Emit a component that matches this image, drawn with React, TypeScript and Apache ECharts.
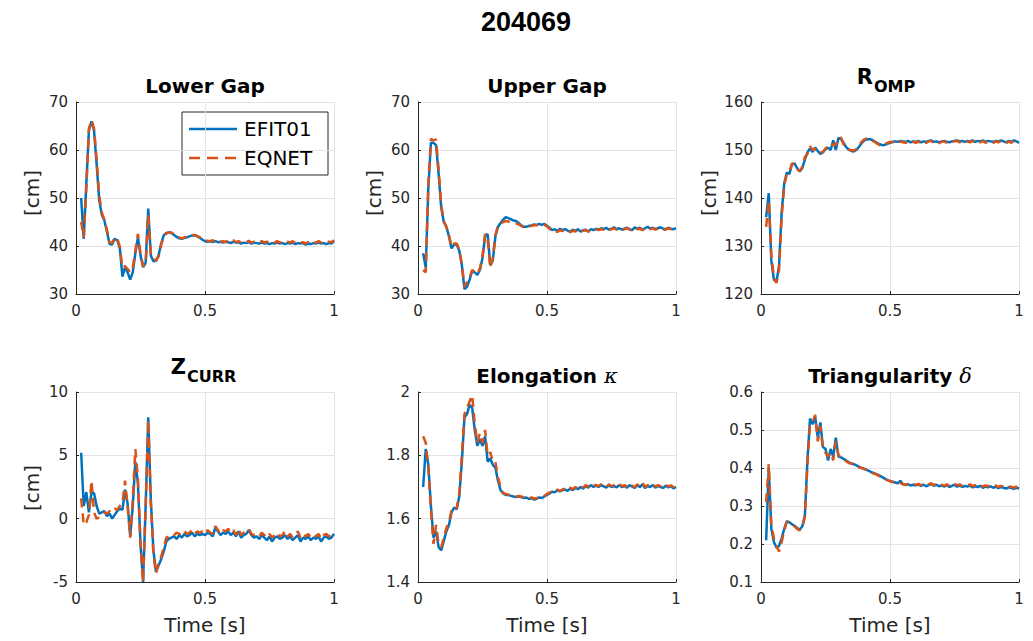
import { useEffect, useRef } from "react";
import * as echarts from "echarts";

// Shot number shown as the figure title
const SHOT = "204069";

// Time base [s], shared by every trace
const TIME = [
  0.02, 0.03, 0.04, 0.05, 0.06, 0.07, 0.08, 0.09,
  0.10, 0.11, 0.12, 0.13, 0.14, 0.15, 0.16, 0.17, 0.18, 0.19,
  0.20, 0.21, 0.22, 0.23, 0.24, 0.25, 0.26, 0.27, 0.28, 0.29,
  0.30, 0.31, 0.32, 0.33, 0.34, 0.35, 0.36, 0.37, 0.38, 0.39,
  0.40, 0.41, 0.42, 0.43, 0.44, 0.45, 0.46, 0.47, 0.48, 0.49,
  0.50, 0.51, 0.52, 0.53, 0.54, 0.55, 0.56, 0.57, 0.58, 0.59,
  0.60, 0.61, 0.62, 0.63, 0.64, 0.65, 0.66, 0.67, 0.68, 0.69,
  0.70, 0.71, 0.72, 0.73, 0.74, 0.75, 0.76, 0.77, 0.78, 0.79,
  0.80, 0.81, 0.82, 0.83, 0.84, 0.85, 0.86, 0.87, 0.88, 0.89,
  0.90, 0.91, 0.92, 0.93, 0.94, 0.95, 0.96, 0.97, 0.98, 0.99,
  1.00,
];

// Lower gap [cm]
const LOWER_GAP_EFIT = [
  50, 41.5, 53, 64, 66, 64, 57, 49.5,
  46.5, 45.3, 43, 40.4, 40.3, 41.5, 41.2, 39.5, 33.6, 35.5,
  34.5, 33, 34.5, 38.5, 41.8, 38, 35.6, 36.5, 47.8, 38,
  36.8, 36.9, 38, 40.5, 42.2, 42.7, 42.8, 42.7, 42.3, 41.9,
  41.6, 41.5, 41.7, 41.8, 42.0, 42.2, 42.2, 42.0, 41.7, 41.3,
  41.0, 40.9, 41.0, 40.8, 41.0, 40.8, 40.9, 40.7, 40.9, 40.8,
  40.6, 40.9, 40.7, 40.8, 40.5, 40.7, 40.6, 40.8, 40.5, 40.7,
  40.6, 40.5, 40.7, 40.5, 40.6, 40.4, 40.6, 40.5, 40.7, 40.5,
  40.6, 40.4, 40.6, 40.5, 40.7, 40.4, 40.6, 40.5, 40.6, 40.3,
  40.5, 40.4, 40.6, 40.5, 40.7, 40.5, 40.6, 40.4, 40.6, 40.5,
  41.0,
];
const LOWER_GAP_EQNET = [
  45, 41.8, 52, 64.5, 66.2, 64.5, 58, 50.5,
  47, 45.5, 43.3, 40.8, 40.6, 41.8, 41.6, 39.8, 35.5, 35.8,
  35.2, 34.5, 35.5, 39, 42.5, 38.5, 35.8, 36.2, 46.5, 38.5,
  37.3, 37, 37.8, 40.2, 42, 42.6, 42.8, 42.8, 42.4, 42,
  41.8, 41.6, 41.8, 41.9, 42.1, 42.3, 42.3, 42.1, 41.8, 41.5,
  41.2, 41.1, 41.0, 41.2, 40.9, 41.2, 40.9, 41.0, 40.8, 41.1,
  40.8, 41.2, 40.8, 41.0, 40.7, 40.9, 40.8, 41.1, 40.7, 40.9,
  40.8, 40.7, 41.0, 40.7, 40.9, 40.6, 40.9, 40.7, 41.0, 40.7,
  40.8, 40.6, 40.9, 40.7, 41.0, 40.6, 40.9, 40.7, 40.8, 40.5,
  40.8, 40.6, 40.9, 40.7, 41.0, 40.7, 40.8, 40.6, 40.9, 40.8,
  41.2,
];

// Upper gap [cm]
const UPPER_GAP_EFIT = [
  38.5, 35.5, 52, 61.5, 61.5, 61, 55, 48,
  45, 44, 42, 39.5, 40.3, 40.3, 39, 36, 31, 31.5,
  33, 34.8, 34.5, 34, 35, 37.5, 42, 42.5, 36, 37,
  42, 44, 44.8, 45.5, 46, 45.8, 45.6, 45.3, 45.2, 44.8,
  44.3, 44.0, 44.0, 44.2, 44.3, 44.5, 44.4, 44.6, 44.4, 44.6,
  44.2, 43.8, 43.3, 43.5, 43.1, 43.6, 43.3, 43.5, 43.2, 43.0,
  43.4, 43.1, 43.5, 43.0, 43.3, 43.4, 43.0, 43.5, 43.3, 43.6,
  43.4, 43.7, 43.5, 43.8, 43.4, 43.6, 43.9, 43.5, 43.7, 43.4,
  43.6, 43.8, 43.5, 43.3, 43.9, 43.6, 43.8, 43.4, 43.7, 44.0,
  43.6, 43.8, 43.5, 43.7, 43.9, 43.6, 43.5, 43.8, 43.6, 43.5,
  43.7,
];
const UPPER_GAP_EQNET = [
  35, 34.5, 53, 62.3, 62, 62.2, 56, 48.5,
  45.2, 44, 42.3, 39.8, 40.5, 40.5, 39.3, 36.2, 31.5, 32.5,
  33.5, 35, 34.6, 34.2, 35.3, 38, 42.5, 41.5, 35.5, 37.5,
  42.3, 44.2, 44.6, 45, 45.2, 45.1, 44.9, 44.8, 44.7, 44.5,
  44.2, 43.9, 43.8, 44.0, 44.2, 44.3, 44.3, 44.4, 44.2, 44.4,
  44.1, 43.6, 43.2, 43.4, 42.9, 43.3, 43.1, 43.4, 43.0, 42.9,
  43.2, 43.0, 43.4, 42.9, 43.2, 43.3, 43.0, 43.3, 43.2, 43.5,
  43.3, 43.5, 43.4, 43.6, 43.3, 43.5, 43.7, 43.4, 43.6, 43.3,
  43.5, 43.7, 43.4, 43.2, 43.7, 43.5, 43.6, 43.3, 43.6, 43.8,
  43.5, 43.7, 43.4, 43.6, 43.8, 43.5, 43.4, 43.7, 43.5, 43.4,
  43.6,
];

// Outer midplane radius [cm]
const R_OMP_EFIT = [
  136, 141, 127, 123, 122.5, 126, 137, 143,
  145.3, 145, 147, 147.2, 146.2, 145.5, 146.2, 148, 149.5, 150.3,
  149.6, 150.5, 149.8, 149.2, 149.5, 150.2, 150.5, 150, 152, 150,
  152.5, 152.3, 151.5, 150.6, 150.1, 149.8, 149.7, 150, 150.7, 151.4,
  152, 152.2, 152.3, 152.1, 151.8, 151.5, 151.2, 151.0, 151.1, 151.3,
  151.5, 151.7, 151.8, 151.7, 151.9, 151.8, 151.7, 151.9, 151.6, 151.8,
  151.7, 151.9, 151.6, 151.8, 151.7, 151.9, 152.0, 151.7, 151.8, 151.6,
  151.8, 151.9, 151.7, 151.6, 151.8, 151.9, 152.0, 151.8, 151.9, 151.7,
  151.9, 151.8, 152.0, 151.7, 151.9, 151.8, 152.0, 151.7, 151.9, 151.8,
  151.7, 151.9, 151.8, 152.0, 151.8, 151.6, 151.9, 151.7, 152.0, 151.8,
  151.5,
];
const R_OMP_EQNET = [
  134, 139.5, 128, 123.5, 122.3, 125, 136, 142.5,
  145, 145.4, 147.2, 147, 146, 145.6, 146.5, 148.5, 149.2, 150.8,
  150, 150.2, 150.1, 149.4, 149.6, 150.3, 150.8, 150.5, 151.2, 151,
  152.5, 152.6, 151.2, 150.3, 150, 150, 149.9, 150.2, 151, 151.7,
  152.2, 152.4, 152.3, 152, 151.7, 151.3, 151, 150.9, 151.2, 151.5,
  151.7, 151.6, 151.9, 151.5, 151.8, 151.6, 151.5, 151.8, 151.4, 151.7,
  151.5, 151.8, 151.4, 151.7, 151.5, 151.8, 151.9, 151.5, 151.7, 151.4,
  151.7, 151.8, 151.5, 151.4, 151.7, 151.8, 151.9, 151.6, 151.8, 151.5,
  151.8, 151.6, 151.9, 151.5, 151.8, 151.6, 151.9, 151.5, 151.8, 151.6,
  151.5, 151.8, 151.6, 151.9, 151.7, 151.4, 151.8, 151.5, 151.9, 151.6,
  151.4,
];

// Current centroid height [cm]
const Z_CURR_EFIT = [
  5.2, 1.0, 2.1, 0.5, 2.1, 2.0, 1.0, 0.4,
  0.5, 0.6, 0.2, 0.4, 0.0, 0.3, 0.6, 0.8, 0.7, 2.3,
  1.2, -1.4, 1.0, 4.5, 2.8, -2.0, -5.0, 1.0, 8.0, 1.5,
  -2.5, -4.2, -3.7, -3.2, -2.6, -1.8, -1.6, -1.5, -1.4, -1.6,
  -1.3, -1.5, -1.2, -1.4, -1.3, -1.1, -1.4, -1.2, -1.3, -1.2,
  -1.3, -1.1, -1.2, -1.4, -0.7, -1.0, -1.3, -1.1, -1.2, -1.0,
  -1.3, -1.1, -1.4, -1.0, -1.5, -1.3, -1.2, -0.9, -1.3, -1.5,
  -1.4, -1.6, -1.3, -1.5, -1.7, -1.4, -1.8, -1.5, -1.4, -1.6,
  -1.5, -1.3, -1.6, -1.4, -1.7, -1.5, -1.3, -1.8, -1.5, -1.6,
  -1.4, -1.7, -1.5, -1.6, -1.4, -1.8, -1.5, -1.4, -1.6, -1.5,
  -1.2,
];
const Z_CURR_EQNET = [
  1.6, -0.5, -0.3, 0.3, 3.0, 0.5, 0.0, 0.1,
  0.3, 0.5, 0.4, 0.6, 0.5, 0.8, 0.7, 1.0, 1.2, 3.0,
  1.0, -1.5, 1.5, 5.5, 3.2, -2.0, -5.0, 1.0, 7.8, 1.2,
  -2.8, -4.3, -3.5, -3.0, -2.3, -1.5, -1.4, -1.2, -1.3, -1.1,
  -1.2, -1.3, -1.0, -1.2, -1.1, -0.9, -1.2, -1.0, -1.1, -1.0,
  -1.2, -0.9, -1.1, -1.2, -0.6, -0.9, -1.2, -0.9, -1.0, -0.8,
  -1.1, -0.9, -1.3, -0.8, -1.3, -1.1, -1.0, -0.8, -1.2, -1.3,
  -1.2, -1.4, -1.1, -1.3, -1.5, -1.2, -1.5, -1.3, -1.1, -1.4,
  -1.3, -1.0, -1.4, -1.2, -1.5, -1.3, -1.0, -1.5, -1.2, -1.4,
  -1.2, -1.5, -1.3, -1.4, -1.2, -1.6, -1.3, -1.2, -1.4, -1.3,
  -1.0,
];

// Elongation kappa
const KAPPA_EFIT = [
  1.70, 1.82, 1.77, 1.64, 1.54, 1.56, 1.51, 1.50,
  1.53, 1.56, 1.58, 1.62, 1.635, 1.63, 1.67, 1.78, 1.92, 1.93,
  1.96, 1.95, 1.88, 1.83, 1.85, 1.83, 1.86, 1.78, 1.79, 1.77,
  1.76, 1.72, 1.69, 1.68, 1.675, 1.675, 1.672, 1.67, 1.668, 1.67,
  1.668, 1.665, 1.667, 1.662, 1.665, 1.66, 1.663, 1.667, 1.665, 1.67,
  1.675, 1.68, 1.685, 1.683, 1.69, 1.686, 1.69, 1.692, 1.688, 1.695,
  1.69, 1.697, 1.693, 1.70, 1.695, 1.703, 1.698, 1.706, 1.70, 1.704,
  1.70, 1.706, 1.702, 1.698, 1.705, 1.70, 1.703, 1.699, 1.706, 1.70,
  1.703, 1.698, 1.706, 1.701, 1.697, 1.705, 1.70, 1.708, 1.697, 1.703,
  1.70, 1.706, 1.698, 1.703, 1.70, 1.697, 1.704, 1.699, 1.702, 1.696,
  1.70,
];
const KAPPA_EQNET = [
  1.86, 1.84, 1.76, 1.63, 1.52, 1.58, 1.52, 1.51,
  1.54, 1.57, 1.59, 1.625, 1.638, 1.632, 1.68, 1.80, 1.93, 1.95,
  1.97, 1.99, 1.90, 1.84, 1.87, 1.84, 1.88, 1.80, 1.81, 1.78,
  1.78, 1.73, 1.70, 1.68, 1.678, 1.676, 1.674, 1.672, 1.67, 1.672,
  1.67, 1.667, 1.669, 1.664, 1.667, 1.663, 1.665, 1.668, 1.667, 1.672,
  1.678, 1.682, 1.687, 1.686, 1.692, 1.688, 1.692, 1.695, 1.691, 1.698,
  1.693, 1.70, 1.696, 1.703, 1.698, 1.706, 1.701, 1.709, 1.703, 1.707,
  1.703, 1.709, 1.705, 1.701, 1.708, 1.703, 1.706, 1.702, 1.709, 1.703,
  1.706, 1.701, 1.709, 1.704, 1.70, 1.708, 1.703, 1.714, 1.70, 1.706,
  1.703, 1.709, 1.701, 1.706, 1.703, 1.70, 1.707, 1.702, 1.705, 1.70,
  1.706,
];

// Triangularity delta
const DELTA_EFIT = [
  0.21, 0.40, 0.24, 0.205, 0.19, 0.195, 0.215, 0.24,
  0.26, 0.257, 0.252, 0.248, 0.242, 0.238, 0.246, 0.275, 0.42, 0.53,
  0.515, 0.535, 0.48, 0.52, 0.455, 0.45, 0.42, 0.45, 0.43, 0.48,
  0.43, 0.428, 0.424, 0.42, 0.415, 0.412, 0.41, 0.407, 0.403, 0.40,
  0.398, 0.395, 0.392, 0.388, 0.386, 0.383, 0.38, 0.376, 0.372, 0.368,
  0.366, 0.364, 0.362, 0.36, 0.366, 0.358, 0.355, 0.357, 0.354, 0.356,
  0.354, 0.357, 0.353, 0.356, 0.352, 0.355, 0.358, 0.353, 0.356, 0.352,
  0.354, 0.351, 0.355, 0.35, 0.353, 0.356, 0.351, 0.354, 0.35, 0.353,
  0.351, 0.354, 0.349, 0.352, 0.35, 0.353, 0.348, 0.351, 0.349, 0.352,
  0.348, 0.351, 0.347, 0.35, 0.348, 0.346, 0.349, 0.347, 0.345, 0.348,
  0.346,
];
const DELTA_EQNET = [
  0.31, 0.41, 0.25, 0.215, 0.195, 0.18, 0.205, 0.235,
  0.258, 0.255, 0.25, 0.246, 0.24, 0.236, 0.245, 0.27, 0.41, 0.515,
  0.52, 0.54, 0.47, 0.51, 0.45, 0.44, 0.43, 0.44, 0.42, 0.47,
  0.435, 0.426, 0.422, 0.418, 0.413, 0.412, 0.408, 0.405, 0.402, 0.40,
  0.397, 0.394, 0.39, 0.387, 0.385, 0.382, 0.378, 0.375, 0.371, 0.368,
  0.365, 0.363, 0.361, 0.359, 0.36, 0.357, 0.356, 0.358, 0.355, 0.357,
  0.356, 0.358, 0.355, 0.357, 0.354, 0.357, 0.36, 0.355, 0.358, 0.354,
  0.356, 0.353, 0.357, 0.353, 0.356, 0.359, 0.354, 0.357, 0.353, 0.356,
  0.354, 0.357, 0.352, 0.355, 0.353, 0.356, 0.351, 0.354, 0.352, 0.355,
  0.351, 0.354, 0.35, 0.353, 0.351, 0.349, 0.352, 0.35, 0.348, 0.351,
  0.349,
];

const SERIES_NAMES = ["EFIT01", "EQNET"];
const X_LABEL = "Time [s]";
const Y_LABEL = "[cm]";

const BLUE = "#0072BD";
const ORANGE = "#D95319";
const INK = "#262626";
const GRID_LINE = "#e3e3e3";
const FONT = "DejaVu Sans";
const LINE_W = 2.5;
const DASH = [9, 6];
const LEGEND_DASH = [11, 7];

type Panel = {
  left: number;
  top: number;
  height: number;
  min: number;
  max: number;
  interval: number;
  efit: number[];
  eqnet: number[];
};

const PANEL_W = 258;
const PANELS: Panel[] = [
  { left: 76, top: 102, height: 192, min: 30, max: 70, interval: 10, efit: LOWER_GAP_EFIT, eqnet: LOWER_GAP_EQNET },
  { left: 418, top: 102, height: 192, min: 30, max: 70, interval: 10, efit: UPPER_GAP_EFIT, eqnet: UPPER_GAP_EQNET },
  { left: 761, top: 102, height: 192, min: 120, max: 160, interval: 10, efit: R_OMP_EFIT, eqnet: R_OMP_EQNET },
  { left: 76, top: 392, height: 190, min: -5, max: 10, interval: 5, efit: Z_CURR_EFIT, eqnet: Z_CURR_EQNET },
  { left: 418, top: 392, height: 190, min: 1.4, max: 2, interval: 0.2, efit: KAPPA_EFIT, eqnet: KAPPA_EQNET },
  { left: 761, top: 392, height: 190, min: 0.1, max: 0.6, interval: 0.1, efit: DELTA_EFIT, eqnet: DELTA_EQNET },
];

const pairs = (values: number[]) => TIME.map((t, i) => [t, values[i]]);

function buildOption() {
  const grid = PANELS.map((p) => ({
    left: p.left,
    top: p.top,
    width: PANEL_W,
    height: p.height,
    containLabel: false,
  }));

  const xAxis = PANELS.map((_, i) => ({
    type: "value",
    gridIndex: i,
    min: 0,
    max: 1,
    interval: 0.5,
    axisLine: { show: true, onZero: false, lineStyle: { color: INK, width: 1 } },
    axisTick: { show: true, inside: true, length: 3, lineStyle: { color: INK } },
    axisLabel: { color: INK, fontFamily: FONT, fontSize: 15, margin: 9 },
    splitLine: { show: true, lineStyle: { color: GRID_LINE, width: 1 } },
  }));

  const yAxis = PANELS.map((p, i) => ({
    type: "value",
    gridIndex: i,
    min: p.min,
    max: p.max,
    interval: p.interval,
    axisLine: { show: true, onZero: false, lineStyle: { color: INK, width: 1 } },
    axisTick: { show: true, inside: true, length: 3, lineStyle: { color: INK } },
    axisLabel: { color: INK, fontFamily: FONT, fontSize: 15, margin: 8 },
    splitLine: { show: true, lineStyle: { color: GRID_LINE, width: 1 } },
  }));

  const series: any[] = [];
  PANELS.forEach((p, i) => {
    series.push({
      type: "line",
      name: SERIES_NAMES[0],
      xAxisIndex: i,
      yAxisIndex: i,
      data: pairs(p.efit),
      symbol: "none",
      lineStyle: { color: BLUE, width: LINE_W },
      itemStyle: { color: BLUE },
    });
    series.push({
      type: "line",
      name: SERIES_NAMES[1],
      xAxisIndex: i,
      yAxisIndex: i,
      data: pairs(p.eqnet),
      symbol: "none",
      lineStyle: { color: ORANGE, width: LINE_W, type: DASH },
      itemStyle: { color: ORANGE },
    });
  });

  const titleFont = (size: number) => `bold ${size}px "${FONT}"`;
  const cx = (i: number) => PANELS[i].left + PANEL_W / 2;

  const plainTitle = (i: number, text: string, y: number) => ({
    type: "text",
    x: cx(i),
    y,
    style: { text, font: titleFont(20), fill: "#000", align: "center", verticalAlign: "middle" },
  });

  const richTitle = (i: number, text: string, symbol: string, y: number) => ({
    type: "text",
    x: cx(i),
    y,
    style: {
      text: `{b|${text} }{g|${symbol}}`,
      align: "center",
      verticalAlign: "middle",
      rich: {
        b: { fontFamily: FONT, fontWeight: "bold", fontSize: 20, fill: "#000", color: "#000" },
        g: { fontFamily: "DejaVu Serif", fontStyle: "italic", fontSize: 21, fill: "#000", color: "#000" },
      },
    },
  });

  const subscriptTitle = (main: string, sub: string, splitX: number, yMain: number, ySub: number) => [
    {
      type: "text",
      x: splitX,
      y: yMain,
      style: { text: main, font: titleFont(21), fill: "#000", align: "right", verticalAlign: "middle" },
    },
    {
      type: "text",
      x: splitX + 1,
      y: ySub,
      style: { text: sub, font: titleFont(16), fill: "#000", align: "left", verticalAlign: "middle" },
    },
  ];

  const yLabel = (x: number, y: number) => ({
    type: "text",
    x,
    y,
    rotation: Math.PI / 2,
    style: { text: Y_LABEL, font: `20px "${FONT}"`, fill: INK, align: "center", verticalAlign: "middle" },
  });

  const xLabel = (i: number) => ({
    type: "text",
    x: cx(i),
    y: 625,
    style: { text: X_LABEL, font: `20px "${FONT}"`, fill: INK, align: "center", verticalAlign: "middle" },
  });

  // Legend box in the first panel: solid EFIT01 line, dashed EQNET line
  const legendBox = {
    type: "group",
    x: 182,
    y: 112,
    z: 20,
    children: [
      {
        type: "rect",
        shape: { x: 0, y: 0, width: 146, height: 63 },
        style: { fill: "#ffffff", stroke: INK, lineWidth: 1 },
      },
      {
        type: "line",
        shape: { x1: 7, y1: 17, x2: 55, y2: 17 },
        style: { stroke: BLUE, lineWidth: LINE_W },
      },
      {
        type: "line",
        shape: { x1: 7, y1: 46, x2: 55, y2: 46 },
        style: { stroke: ORANGE, lineWidth: LINE_W, lineDash: LEGEND_DASH },
      },
      {
        type: "text",
        x: 62,
        y: 17,
        style: { text: SERIES_NAMES[0], font: `20px "${FONT}"`, fill: "#000", align: "left", verticalAlign: "middle" },
      },
      {
        type: "text",
        x: 62,
        y: 46,
        style: { text: SERIES_NAMES[1], font: `20px "${FONT}"`, fill: "#000", align: "left", verticalAlign: "middle" },
      },
    ],
  };

  const graphic: any[] = [
    {
      type: "text",
      x: 526,
      y: 22,
      style: { text: SHOT, font: 'bold 27px "Liberation Sans"', fill: "#000", align: "center", verticalAlign: "middle" },
    },
    plainTitle(0, "Lower Gap", 86),
    plainTitle(1, "Upper Gap", 86),
    ...subscriptTitle("R", "OMP", 873, 77, 86),
    ...subscriptTitle("Z", "CURR", 186, 367, 376),
    richTitle(4, "Elongation", "κ", 376),
    richTitle(5, "Triangularity", "δ", 376),
    yLabel(32, 193),
    yLabel(374, 193),
    yLabel(709, 193),
    yLabel(32, 488),
    xLabel(3),
    xLabel(4),
    xLabel(5),
    legendBox,
  ];

  return {
    animation: false,
    backgroundColor: "#ffffff",
    grid,
    xAxis,
    yAxis,
    series,
    graphic,
  };
}

export default function App() {
  const ref = useRef<HTMLDivElement>(null);

  useEffect(() => {
    if (!ref.current) return;
    const chart = echarts.init(ref.current, undefined, { renderer: "svg" });
    chart.setOption(buildOption() as any);
    return () => chart.dispose();
  }, []);

  return (
    <div
      ref={ref}
      style={{ position: "fixed", left: 0, top: 0, width: 1033, height: 641, background: "#fff" }}
    />
  );
}
